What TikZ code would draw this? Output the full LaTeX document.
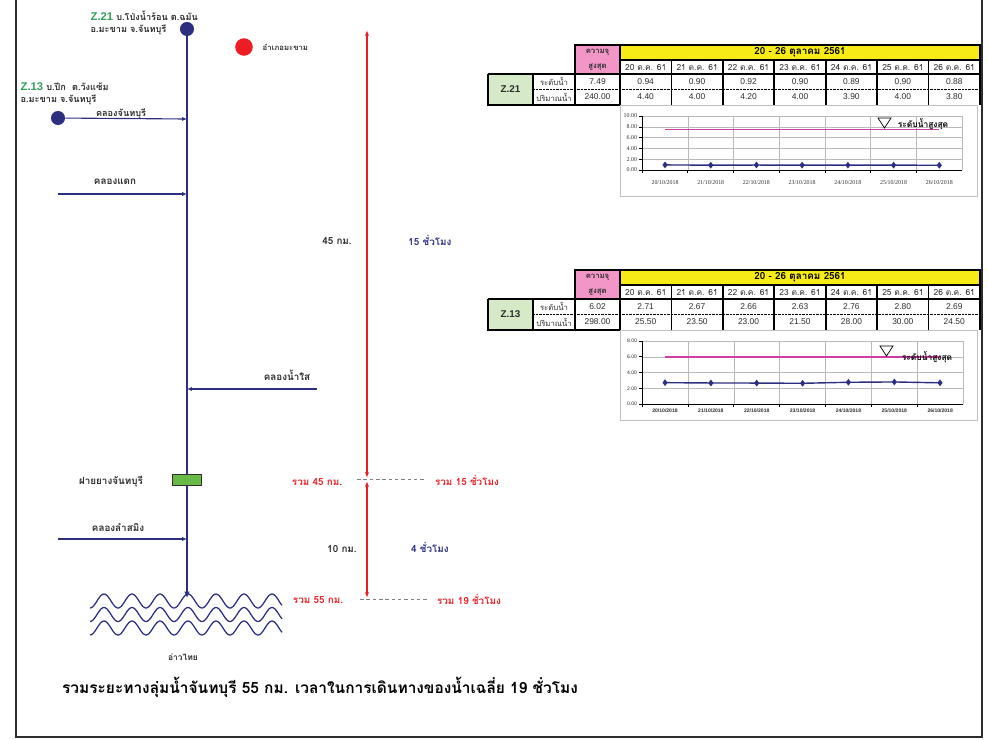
\documentclass[tikz,border=0pt]{standalone}
\usepackage{fontspec}
\setmainfont{Liberation Sans}
\newfontfamily\thaifont[Script=Thai]{Loma}
\newfontfamily\chartserif{Liberation Serif}
\usepackage{xcolor}
\usetikzlibrary{positioning,arrows.meta,calc,plotmarks}

\definecolor{rivernavy}{RGB}{44,47,128}
\definecolor{zgreen}{RGB}{46,158,90}
\definecolor{alertred}{RGB}{236,30,36}
\definecolor{hdryellow}{RGB}{246,235,22}
\definecolor{cappink}{RGB}{242,150,200}
\definecolor{boxgreen}{RGB}{214,234,200}
\definecolor{damgreen}{RGB}{104,186,70}
\definecolor{maxmagenta}{RGB}{204,62,164}
\definecolor{inkgray}{RGB}{45,45,45}

\begin{document}
\begin{tikzpicture}[x=0.025cm, y=-0.025cm,
  lbl/.style={font=\fontsize{6.5}{7}\thaifont\bfseries, text=inkgray, inner sep=1pt},
  redlbl/.style={font=\fontsize{7}{8}\thaifont\bfseries, text=alertred, inner sep=1pt},
  navylbl/.style={font=\fontsize{7}{8}\thaifont\bfseries, text=rivernavy, inner sep=1pt},
  station/.style={circle, fill=rivernavy, minimum size=10pt, inner sep=0pt},
  river/.style={rivernavy, line width=1.4pt},
  trib/.style={rivernavy, line width=0.8pt, -{Latex[length=3.5pt,width=3pt]}},
  spanarrow/.style={alertred, line width=0.8pt, {Latex[length=4pt,width=3pt]}-{Latex[length=4pt,width=3pt]}},
  guide/.style={gray, line width=0.5pt, dash pattern=on 2.5pt off 2pt},
  wave/.style={rivernavy, line width=0.9pt},
  rule/.style={black, line width=1.2pt},
  hdr/.style={font=\fontsize{7}{8}\thaifont\bfseries, text=black, inner sep=0pt},
  cell/.style={font=\fontsize{6}{7}\selectfont, text=inkgray, inner sep=0pt},
  thcell/.style={font=\fontsize{6}{7}\thaifont, text=inkgray, inner sep=0pt},
  chartgrid/.style={gray!55, line width=0.3pt},
  series/.style={rivernavy, line width=1pt, mark=diamond*, mark size=1.6pt},
  maxline/.style={maxmagenta, line width=1.1pt},
  serifax/.style={font=\fontsize{4.2}{5}\chartserif, text=inkgray, inner sep=0.5pt},
  sansax/.style={font=\fontsize{3.6}{4}\selectfont\bfseries, text=inkgray, inner sep=0.5pt}]
\useasboundingbox (0,0) rectangle (988,739);
% page frame
\draw[inkgray, line width=1.3pt] (16,0) -- (16,737) -- (982,737) -- (982,0);

% stations and main river
\node[station] (z21) at (187,29) {};
\node[station] (z13) at (58,118) {};
\node[circle, fill=alertred, minimum size=12.5pt, inner sep=0pt] (amphoe) at (244,47) {};
\node[lbl, font=\fontsize{5.5}{6}\thaifont\bfseries, anchor=west] (amphoetxt) at (261,47) {อำเภอมะขาม};
\coordinate (mouth) at (187,598);
\draw[river, -{Latex[length=4.5pt,width=4pt]}] (z21) -- (mouth);

\node[lbl, anchor=west] (z21name) at (89,16) {{\rmfamily\bfseries\fontsize{8}{9}\selectfont\color{zgreen}Z.21} บ.โป่งน้ำร้อน ต.ฉมัน};
\node[lbl, anchor=west] (z21addr) at (89,29.5) {อ.มะขาม จ.จันทบุรี};
\node[lbl, anchor=west] (z13name) at (19,87) {{\rmfamily\bfseries\fontsize{8}{9}\selectfont\color{zgreen}Z.13} บ.ปึก\ \ ต.วังแซ้ม};
\node[lbl, anchor=west] (z13addr) at (19,99.5) {อ.มะขาม จ.จันทบุรี};

% tributaries
\coordinate (chanj) at (187,119);
\draw[trib] (z13) -- (chanj);
\node[lbl] (chan) at (121,114) {คลองจันทบุรี};
\coordinate (daeks) at (58,194);
\coordinate (daekj) at (187,194);
\draw[trib] (daeks) -- (daekj);
\node[lbl, font=\fontsize{7}{8}\thaifont\bfseries] (daek) at (115,182) {คลองแดก};
\coordinate (sais) at (317,389);
\coordinate (saij) at (187,389);
\draw[trib] (sais) -- (saij);
\node[lbl, font=\fontsize{7}{8}\thaifont\bfseries] (sai) at (287,375) {คลองน้ำใส};
\coordinate (samings) at (58,539);
\coordinate (samingj) at (187,539);
\draw[trib] (samings) -- (samingj);
\node[lbl, font=\fontsize{7}{8}\thaifont\bfseries] (saming) at (118,527) {คลองลำสมิง};

% rubber dam
\node[draw=inkgray, fill=damgreen, line width=0.5pt, minimum width=21pt, minimum height=7.5pt, inner sep=0pt] (dam) at (187,480) {};
\node[lbl, font=\fontsize{7}{8}\thaifont\bfseries] (damtxt) at (111,482) {ฝายยางจันทบุรี};

% sea
\foreach \k in {0,1,2}
  \draw[wave] plot[domain=90:282, samples=150] (\x, {601+13.5*\k+7*cos(12.857*(\x-90))});
\node[lbl, font=\fontsize{6}{7}\thaifont\bfseries] (gulf) at (183,657) {อ่าวไทย};
\node[lbl, font=\fontsize{11}{12}\thaifont\bfseries, text=black] (summary) at (320,687) {รวมระยะทางลุ่มน้ำจันทบุรี 55 กม. เวลาในการเดินทางของน้ำเฉลี่ย 19 ชั่วโมง};

% distance and travel time
\coordinate (d0) at (367,30);
\coordinate (d1a) at (367,478);
\coordinate (d1b) at (367,481);
\coordinate (d2) at (367,598);
\draw[spanarrow] (d0) -- (d1a);
\draw[spanarrow] (d1b) -- (d2);
\coordinate (g1a) at (357,479);
\coordinate (g1b) at (425,479);
\coordinate (g2a) at (360,599);
\coordinate (g2b) at (427,599);
\draw[guide] (g1a) -- (g1b);
\draw[guide] (g2a) -- (g2b);
\node[lbl, font=\fontsize{7}{8}\thaifont\bfseries] (km45) at (337,241) {45 กม.};
\node[navylbl] (hr15) at (430,240) {15 ชั่วโมง};
\node[redlbl] (sumkm45) at (317,482) {รวม 45 กม.};
\node[redlbl] (sumhr15) at (467,480) {รวม 15 ชั่วโมง};
\node[lbl, font=\fontsize{7}{8}\thaifont\bfseries] (km10) at (342,549) {10 กม.};
\node[navylbl] (hr4) at (430,547) {4 ชั่วโมง};
\node[redlbl] (sumkm55) at (318,600) {รวม 55 กม.};
\node[redlbl] (sumhr19) at (469,599) {รวม 19 ชั่วโมง};

% gauge tables
\foreach \sid/\off/\capl/\capq in {21/0/7.49/240.00, 13/225/6.02/298.00}{
\begin{scope}[shift={(0,\off)}]
\fill[hdryellow] (620,45) rectangle (980,60);
\fill[cappink] (575,45) rectangle (620,74);
\fill[boxgreen] (488,74) rectangle (533,105);
\draw[rule] (575,105) -- (575,45) -- (980,45) -- (980,105);
\draw[rule] (620,45) -- (620,105);
\draw[rule] (620,60) -- (980,60);
\draw[rule] (488,74) -- (980,74);
\draw[rule] (488,74) -- (488,105) -- (620,105);
\draw[black, line width=0.8pt] (533,74) -- (533,105);
\foreach \k in {1,...,6} \draw[rule] (620+51.43*\k,60) -- (620+51.43*\k,105);
\draw[black, line width=0.6pt, dash pattern=on 0.5pt off 0.5pt] (533,89.5) -- (980,89.5);
\node[hdr] (week\sid) at (800,52.5) {20 - 26 ตุลาคม 2561};
\node[thcell, font=\fontsize{5.5}{6}\thaifont\bfseries] (capa\sid) at (597.5,52) {ความจุ};
\node[thcell, font=\fontsize{5.5}{6}\thaifont\bfseries] (capb\sid) at (597.5,67) {สูงสุด};
\node[cell, font=\fontsize{7}{8}\selectfont\bfseries] (zbox\sid) at (510.5,89.5) {Z.\sid};
\node[thcell, font=\fontsize{5.5}{6}\thaifont] (lvl\sid) at (554,81.5) {ระดับน้ำ};
\node[thcell, font=\fontsize{5.5}{6}\thaifont] (vol\sid) at (554,97) {ปริมาณน้ำ};
\node[cell] (capl\sid) at (597.5,81.5) {\capl};
\node[cell] (capq\sid) at (597.5,97) {\capq};
\end{scope}}
\foreach \i/\d/\la/\qa/\lb/\qb in {0/20/0.94/4.40/2.71/25.50, 1/21/0.90/4.00/2.67/23.50,
  2/22/0.92/4.20/2.66/23.00, 3/23/0.90/4.00/2.63/21.50, 4/24/0.89/3.90/2.76/28.00,
  5/25/0.90/4.00/2.80/30.00, 6/26/0.88/3.80/2.69/24.50}{
  \node[thcell] (da\i) at (645.7+51.43*\i,67) {\d\ ต.ค. 61};
  \node[cell] (la\i) at (645.7+51.43*\i,81.5) {\la};
  \node[cell] (qa\i) at (645.7+51.43*\i,97) {\qa};
  \node[thcell] (db\i) at (645.7+51.43*\i,292) {\d\ ต.ค. 61};
  \node[cell] (lb\i) at (645.7+51.43*\i,306.5) {\lb};
  \node[cell] (qb\i) at (645.7+51.43*\i,322) {\qb};
}

% chart Z.21
\draw[gray!50, line width=0.5pt] (620,105) rectangle (977,196);
\foreach \v in {2,4,...,10} \draw[chartgrid] (642,170-5.4*\v) -- (962,170-5.4*\v);
\foreach \k in {1,...,7} \draw[chartgrid] (642+45.71*\k,116) -- (642+45.71*\k,170);
\draw[black, line width=0.6pt] (642,116) -- (642,170) -- (962,170);
\foreach \v/\t in {0/0.00,2/2.00,4/4.00,6/6.00,8/8.00,10/10.00}{
  \draw[black, line width=0.4pt] (639,170-5.4*\v) -- (642,170-5.4*\v);
  \node[serifax, anchor=east] (ya\v) at (638,170-5.4*\v) {\t};
}
\foreach \d [count=\i from 0] in {20,...,26}{
  \draw[black, line width=0.4pt] (642+45.71*\i,170) -- (642+45.71*\i,173);
  \node[serifax] (xa\i) at (665+45.71*\i,183) {\d/10/2018};
}
\draw[maxline] (665,129.6) -- (939.3,129.6);
\draw[series] plot coordinates {(665,164.92) (710.7,165.14) (756.4,165.03) (802.1,165.14) (847.9,165.19) (893.6,165.14) (939.3,165.25)};
\draw[black, line width=0.5pt] (878,118) -- (891,118) -- (884.5,128) -- cycle;
\node[lbl, font=\fontsize{6}{7}\thaifont\bfseries, text=black] (maxa) at (923,124) {ระดับน้ำสูงสุด};

% chart Z.13
\draw[gray!50, line width=0.5pt] (620,330) rectangle (977,420);
\foreach \v in {2,4,6,8} \draw[chartgrid] (642,404-7.875*\v) -- (963,404-7.875*\v);
\foreach \k in {1,...,7} \draw[chartgrid] (642+45.86*\k,341) -- (642+45.86*\k,404);
\draw[black, line width=0.6pt] (642,341) -- (642,404) -- (963,404);
\foreach \v/\t in {0/0.00,2/2.00,4/4.00,6/6.00,8/8.00}{
  \draw[black, line width=0.4pt] (639,404-7.875*\v) -- (642,404-7.875*\v);
  \node[sansax, font=\fontsize{3.6}{4}\selectfont, anchor=east] (yb\v) at (638,404-7.875*\v) {\t};
}
\foreach \d [count=\i from 0] in {20,...,26}{
  \draw[black, line width=0.4pt] (642+45.86*\i,404) -- (642+45.86*\i,407);
  \node[sansax] (xb\i) at (665+45.86*\i,411) {\d/10/2018};
}
\draw[maxline] (665,356.75) -- (940,356.75);
\draw[series] plot coordinates {(665,382.66) (710.9,382.97) (756.7,383.05) (802.6,383.29) (848.4,382.27) (894.3,381.95) (940,382.82)};
\draw[black, line width=0.5pt] (880,346) -- (893,346) -- (886.5,356) -- cycle;
\node[lbl, font=\fontsize{6}{7}\thaifont\bfseries, text=black] (maxb) at (927,357) {ระดับน้ำสูงสุด};
\end{tikzpicture}
\end{document}
